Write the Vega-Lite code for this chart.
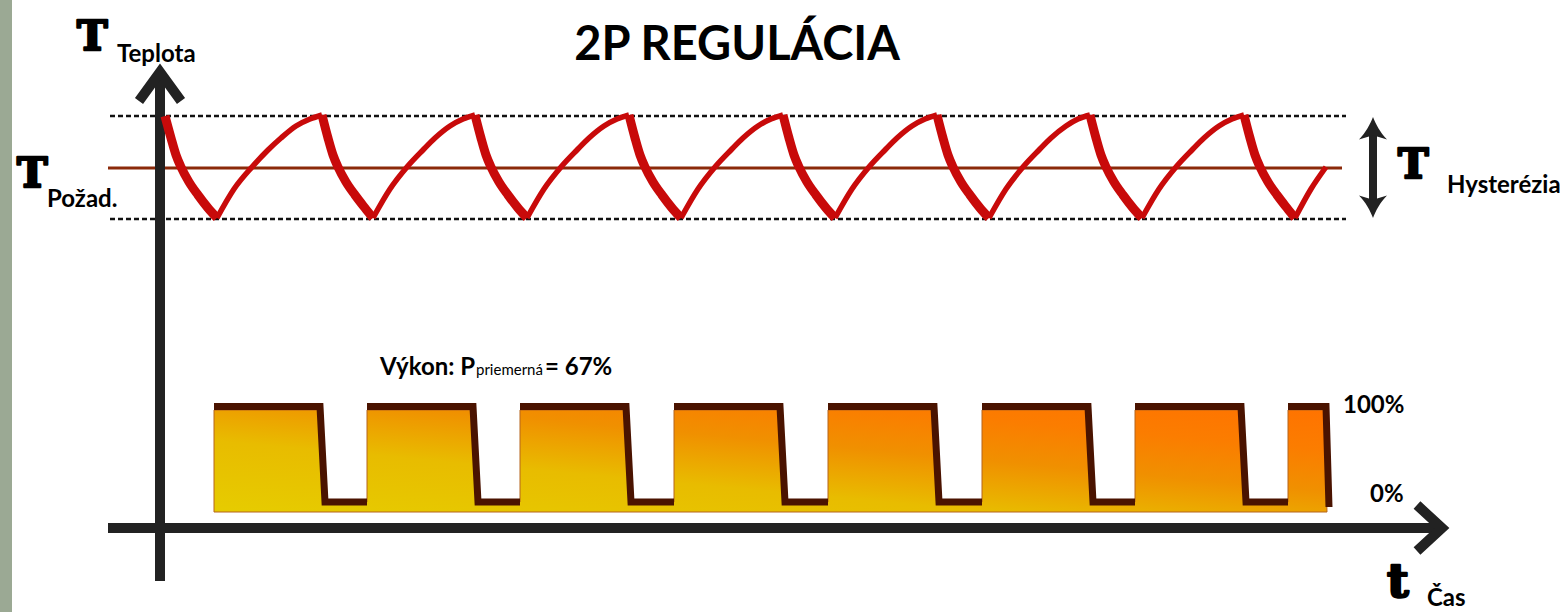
{
  "$schema": "https://vega.github.io/schema/vega-lite/v6.json",
  "width": 1567,
  "height": 612,
  "autosize": {"type": "fit", "contains": "padding"},
  "padding": 0,
  "background": "white",
  "config": {"view": {"stroke": null}},
  "datasets": {
    "fall": [
      {"seg": "f0", "x": 165, "y": 116}, {"seg": "f0", "x": 171, "y": 138}, {"seg": "f0", "x": 176, "y": 155}, {"seg": "f0", "x": 181, "y": 167}, {"seg": "f0", "x": 189, "y": 182}, {"seg": "f0", "x": 198, "y": 195}, {"seg": "f0", "x": 208, "y": 208}, {"seg": "f0", "x": 217, "y": 218},
      {"seg": "f1", "x": 322, "y": 115}, {"seg": "f1", "x": 328, "y": 138}, {"seg": "f1", "x": 333, "y": 155}, {"seg": "f1", "x": 338, "y": 167}, {"seg": "f1", "x": 346, "y": 182}, {"seg": "f1", "x": 355, "y": 195}, {"seg": "f1", "x": 365, "y": 208}, {"seg": "f1", "x": 373, "y": 218},
      {"seg": "f2", "x": 475, "y": 115}, {"seg": "f2", "x": 481, "y": 138}, {"seg": "f2", "x": 486, "y": 155}, {"seg": "f2", "x": 491, "y": 167}, {"seg": "f2", "x": 499, "y": 182}, {"seg": "f2", "x": 508, "y": 195}, {"seg": "f2", "x": 518, "y": 208}, {"seg": "f2", "x": 527, "y": 218},
      {"seg": "f3", "x": 629, "y": 115}, {"seg": "f3", "x": 635, "y": 138}, {"seg": "f3", "x": 640, "y": 155}, {"seg": "f3", "x": 645, "y": 167}, {"seg": "f3", "x": 653, "y": 182}, {"seg": "f3", "x": 662, "y": 195}, {"seg": "f3", "x": 672, "y": 208}, {"seg": "f3", "x": 681, "y": 218},
      {"seg": "f4", "x": 783, "y": 115}, {"seg": "f4", "x": 789, "y": 138}, {"seg": "f4", "x": 794, "y": 155}, {"seg": "f4", "x": 799, "y": 167}, {"seg": "f4", "x": 807, "y": 182}, {"seg": "f4", "x": 816, "y": 195}, {"seg": "f4", "x": 826, "y": 208}, {"seg": "f4", "x": 835, "y": 218},
      {"seg": "f5", "x": 937, "y": 115}, {"seg": "f5", "x": 943, "y": 138}, {"seg": "f5", "x": 948, "y": 155}, {"seg": "f5", "x": 953, "y": 167}, {"seg": "f5", "x": 961, "y": 182}, {"seg": "f5", "x": 970, "y": 195}, {"seg": "f5", "x": 980, "y": 208}, {"seg": "f5", "x": 989, "y": 218},
      {"seg": "f6", "x": 1090, "y": 115}, {"seg": "f6", "x": 1096, "y": 138}, {"seg": "f6", "x": 1101, "y": 155}, {"seg": "f6", "x": 1106, "y": 167}, {"seg": "f6", "x": 1114, "y": 182}, {"seg": "f6", "x": 1123, "y": 195}, {"seg": "f6", "x": 1133, "y": 208}, {"seg": "f6", "x": 1142, "y": 218},
      {"seg": "f7", "x": 1244, "y": 115}, {"seg": "f7", "x": 1250, "y": 138}, {"seg": "f7", "x": 1255, "y": 155}, {"seg": "f7", "x": 1260, "y": 167}, {"seg": "f7", "x": 1268, "y": 182}, {"seg": "f7", "x": 1277, "y": 195}, {"seg": "f7", "x": 1287, "y": 208}, {"seg": "f7", "x": 1295, "y": 218}
    ],
    "rise": [
      {"seg": "r0", "x": 217, "y": 218}, {"seg": "r0", "x": 234, "y": 189}, {"seg": "r0", "x": 252, "y": 167}, {"seg": "r0", "x": 268, "y": 150}, {"seg": "r0", "x": 281, "y": 138}, {"seg": "r0", "x": 296, "y": 126}, {"seg": "r0", "x": 310, "y": 119}, {"seg": "r0", "x": 322, "y": 115},
      {"seg": "r1", "x": 373, "y": 218}, {"seg": "r1", "x": 390, "y": 189}, {"seg": "r1", "x": 407, "y": 167}, {"seg": "r1", "x": 423, "y": 150}, {"seg": "r1", "x": 435, "y": 138}, {"seg": "r1", "x": 450, "y": 126}, {"seg": "r1", "x": 463, "y": 119}, {"seg": "r1", "x": 475, "y": 115},
      {"seg": "r2", "x": 527, "y": 218}, {"seg": "r2", "x": 544, "y": 189}, {"seg": "r2", "x": 561, "y": 167}, {"seg": "r2", "x": 577, "y": 150}, {"seg": "r2", "x": 589, "y": 138}, {"seg": "r2", "x": 604, "y": 126}, {"seg": "r2", "x": 617, "y": 119}, {"seg": "r2", "x": 629, "y": 115},
      {"seg": "r3", "x": 681, "y": 218}, {"seg": "r3", "x": 698, "y": 189}, {"seg": "r3", "x": 715, "y": 167}, {"seg": "r3", "x": 731, "y": 150}, {"seg": "r3", "x": 743, "y": 138}, {"seg": "r3", "x": 758, "y": 126}, {"seg": "r3", "x": 771, "y": 119}, {"seg": "r3", "x": 783, "y": 115},
      {"seg": "r4", "x": 835, "y": 218}, {"seg": "r4", "x": 852, "y": 189}, {"seg": "r4", "x": 869, "y": 167}, {"seg": "r4", "x": 885, "y": 150}, {"seg": "r4", "x": 897, "y": 138}, {"seg": "r4", "x": 912, "y": 126}, {"seg": "r4", "x": 925, "y": 119}, {"seg": "r4", "x": 937, "y": 115},
      {"seg": "r5", "x": 989, "y": 218}, {"seg": "r5", "x": 1006, "y": 189}, {"seg": "r5", "x": 1023, "y": 167}, {"seg": "r5", "x": 1039, "y": 150}, {"seg": "r5", "x": 1051, "y": 138}, {"seg": "r5", "x": 1066, "y": 126}, {"seg": "r5", "x": 1078, "y": 119}, {"seg": "r5", "x": 1090, "y": 115},
      {"seg": "r6", "x": 1142, "y": 218}, {"seg": "r6", "x": 1159, "y": 189}, {"seg": "r6", "x": 1176, "y": 167}, {"seg": "r6", "x": 1192, "y": 150}, {"seg": "r6", "x": 1204, "y": 138}, {"seg": "r6", "x": 1219, "y": 126}, {"seg": "r6", "x": 1232, "y": 119}, {"seg": "r6", "x": 1244, "y": 115},
      {"seg": "r7", "x": 1295, "y": 218}, {"seg": "r7", "x": 1311, "y": 189}, {"seg": "r7", "x": 1326, "y": 167}
    ],
    "power_face": [
      {"x": 214, "y": 410}, {"x": 319, "y": 410}, {"x": 324, "y": 502}, {"x": 367, "y": 502},
      {"x": 367, "y": 410}, {"x": 472, "y": 410}, {"x": 477, "y": 502}, {"x": 520, "y": 502},
      {"x": 520, "y": 410}, {"x": 625, "y": 410}, {"x": 630, "y": 502}, {"x": 674, "y": 502},
      {"x": 674, "y": 410}, {"x": 779, "y": 410}, {"x": 784, "y": 502}, {"x": 828, "y": 502},
      {"x": 828, "y": 410}, {"x": 933, "y": 410}, {"x": 938, "y": 502}, {"x": 982, "y": 502},
      {"x": 982, "y": 410}, {"x": 1087, "y": 410}, {"x": 1092, "y": 502}, {"x": 1135, "y": 502},
      {"x": 1135, "y": 410}, {"x": 1240, "y": 410}, {"x": 1245, "y": 502}, {"x": 1288, "y": 502},
      {"x": 1288, "y": 410}, {"x": 1324, "y": 410}, {"x": 1327, "y": 512}
    ],
    "power_edge": [
      {"seg": "b1", "x": 214, "y": 406.5}, {"seg": "b1", "x": 320, "y": 406.5}, {"seg": "b1", "x": 325, "y": 502}, {"seg": "b1", "x": 367, "y": 502},
      {"seg": "b2", "x": 367, "y": 406.5}, {"seg": "b2", "x": 473, "y": 406.5}, {"seg": "b2", "x": 478, "y": 502}, {"seg": "b2", "x": 520, "y": 502},
      {"seg": "b3", "x": 520, "y": 406.5}, {"seg": "b3", "x": 626, "y": 406.5}, {"seg": "b3", "x": 631, "y": 502}, {"seg": "b3", "x": 674, "y": 502},
      {"seg": "b4", "x": 674, "y": 406.5}, {"seg": "b4", "x": 780, "y": 406.5}, {"seg": "b4", "x": 785, "y": 502}, {"seg": "b4", "x": 828, "y": 502},
      {"seg": "b5", "x": 828, "y": 406.5}, {"seg": "b5", "x": 934, "y": 406.5}, {"seg": "b5", "x": 939, "y": 502}, {"seg": "b5", "x": 982, "y": 502},
      {"seg": "b6", "x": 982, "y": 406.5}, {"seg": "b6", "x": 1088, "y": 406.5}, {"seg": "b6", "x": 1093, "y": 502}, {"seg": "b6", "x": 1135, "y": 502},
      {"seg": "b7", "x": 1135, "y": 406.5}, {"seg": "b7", "x": 1241, "y": 406.5}, {"seg": "b7", "x": 1246, "y": 502}, {"seg": "b7", "x": 1288, "y": 502},
      {"seg": "b8", "x": 1288, "y": 406.5}, {"seg": "b8", "x": 1326, "y": 406.5}, {"seg": "b8", "x": 1329, "y": 507}
    ],
    "axes": [
      {"seg": "vshaft", "x": 160, "y": 581}, {"seg": "vshaft", "x": 160, "y": 76},
      {"seg": "vhead", "x": 139, "y": 101}, {"seg": "vhead", "x": 160, "y": 72}, {"seg": "vhead", "x": 181, "y": 101},
      {"seg": "hshaft", "x": 108, "y": 528}, {"seg": "hshaft", "x": 1440, "y": 528},
      {"seg": "hhead", "x": 1417, "y": 505}, {"seg": "hhead", "x": 1442, "y": 528}, {"seg": "hhead", "x": 1417, "y": 551}
    ],
    "limits": [{"x": 110, "x2": 1346, "y": 116}, {"x": 110, "x2": 1346, "y": 219}],
    "setpoint": [{"x": 108, "x2": 1342, "y": 168}],
    "hyst_shaft": [{"x": 1373, "y": 131, "y2": 204}],
    "hyst_heads": [{"dir": "up", "x": 1373, "y": 131}, {"dir": "down", "x": 1373, "y": 204}],
    "title": [{"x": 737, "y": 60, "text": "2P REGULÁCIA"}],
    "symbols": [
      {"x": 77, "y": 50, "text": "T"},
      {"x": 17, "y": 187, "text": "T"},
      {"x": 1398, "y": 178, "text": "T"}
    ],
    "symbol_t": [{"x": 1387, "y": 597, "text": "t"}],
    "labels": [
      {"x": 117, "y": 62, "text": "Teplota"},
      {"x": 47, "y": 207, "text": "Požad."},
      {"x": 1447, "y": 193, "text": "Hysterézia"},
      {"x": 1427, "y": 606, "text": "Čas"},
      {"x": 380, "y": 375, "text": "Výkon: P"},
      {"x": 545, "y": 375, "text": "= 67%"},
      {"x": 1343, "y": 413, "text": "100%"},
      {"x": 1370, "y": 502, "text": "0%"}
    ],
    "sublabel": [{"x": 476, "y": 375, "text": "priemerná"}]
  },
  "encoding": {
    "x": {"field": "x", "type": "quantitative", "scale": {"domain": [0, 1567], "nice": false, "zero": false}, "axis": null},
    "y": {"field": "y", "type": "quantitative", "scale": {"domain": [0, 612], "nice": false, "zero": false, "reverse": true}, "axis": null}
  },
  "layer": [
    {
      "data": {"values": [{"x": 0, "x2": 12, "y": 0, "y2": 612}]},
      "mark": {"type": "rect", "color": "#9ba994"},
      "encoding": {"x2": {"field": "x2"}, "y2": {"field": "y2"}}
    },
    {
      "data": {"name": "power_face"},
      "mark": {
        "type": "area",
        "stroke": "#b5651d",
        "strokeWidth": 1,
        "color": {
          "gradient": "linear",
          "x1": 0, "y1": 1, "x2": 1, "y2": 0,
          "stops": [
            {"offset": 0, "color": "#e6cc00"},
            {"offset": 0.35, "color": "#e8bc00"},
            {"offset": 0.6, "color": "#f09000"},
            {"offset": 0.8, "color": "#fb7d00"},
            {"offset": 1, "color": "#ff7300"}
          ]
        }
      },
      "encoding": {"y2": {"datum": 512}}
    },
    {
      "data": {"name": "power_edge"},
      "mark": {"type": "line", "color": "#4a1300", "strokeWidth": 7, "strokeJoin": "miter", "strokeCap": "butt"},
      "encoding": {"detail": {"field": "seg"}, "order": {"value": null}}
    },
    {
      "data": {"name": "limits"},
      "mark": {"type": "rule", "color": "#111111", "strokeWidth": 2.5, "strokeDash": [5, 3]},
      "encoding": {"x2": {"field": "x2"}}
    },
    {
      "data": {"name": "setpoint"},
      "mark": {"type": "rule", "color": "#8b2a0a", "strokeWidth": 3},
      "encoding": {"x2": {"field": "x2"}}
    },
    {
      "data": {"name": "axes"},
      "mark": {"type": "line", "color": "#222222", "strokeWidth": 10, "strokeJoin": "miter", "strokeCap": "butt"},
      "encoding": {"detail": {"field": "seg"}, "order": {"value": null}}
    },
    {
      "data": {"name": "rise"},
      "mark": {"type": "line", "color": "#c80a0a", "strokeWidth": 5.5, "interpolate": "monotone", "strokeCap": "butt"},
      "encoding": {"detail": {"field": "seg"}}
    },
    {
      "data": {"name": "fall"},
      "mark": {"type": "line", "color": "#c80a0a", "strokeWidth": 9, "interpolate": "monotone", "strokeCap": "butt"},
      "encoding": {"detail": {"field": "seg"}}
    },
    {
      "data": {"name": "hyst_shaft"},
      "mark": {"type": "rule", "color": "#222222", "strokeWidth": 8},
      "encoding": {"y2": {"field": "y2"}}
    },
    {
      "data": {"name": "hyst_heads"},
      "mark": {"type": "point", "filled": true, "color": "#222222", "opacity": 1, "size": 784},
      "encoding": {
        "shape": {
          "field": "dir",
          "type": "nominal",
          "scale": {
            "domain": ["up", "down"],
            "range": [
              "M0,-1 C0.2,-0.5 0.5,0.1 1,0.6 L0,0.3 L-1,0.6 C-0.5,0.1 -0.2,-0.5 0,-1 Z",
              "M0,1 C0.2,0.5 0.5,-0.1 1,-0.6 L0,-0.3 L-1,-0.6 C-0.5,-0.1 -0.2,0.5 0,1 Z"
            ]
          },
          "legend": null
        }
      }
    },
    {
      "data": {"name": "title"},
      "mark": {"type": "text", "font": "Lato", "fontWeight": "bold", "fontSize": 47, "align": "center", "baseline": "alphabetic", "color": "#000000"},
      "encoding": {"text": {"field": "text"}}
    },
    {
      "data": {"name": "symbols"},
      "mark": {"type": "text", "font": "DejaVu Serif", "fontWeight": "bold", "fontSize": 41, "align": "left", "baseline": "alphabetic", "color": "#000000", "stroke": "#000000", "strokeWidth": 2.5, "strokeJoin": "round"},
      "encoding": {"text": {"field": "text"}}
    },
    {
      "data": {"name": "symbol_t"},
      "mark": {"type": "text", "font": "DejaVu Serif", "fontWeight": "bold", "fontSize": 47, "align": "left", "baseline": "alphabetic", "color": "#000000", "stroke": "#000000", "strokeWidth": 2.5, "strokeJoin": "round"},
      "encoding": {"text": {"field": "text"}}
    },
    {
      "data": {"name": "labels"},
      "mark": {"type": "text", "font": "Lato", "fontWeight": "bold", "fontSize": 24, "align": "left", "baseline": "alphabetic", "color": "#000000"},
      "encoding": {"text": {"field": "text"}}
    },
    {
      "data": {"name": "sublabel"},
      "mark": {"type": "text", "font": "Lato", "fontSize": 15, "align": "left", "baseline": "alphabetic", "color": "#000000"},
      "encoding": {"text": {"field": "text"}}
    }
  ]
}
